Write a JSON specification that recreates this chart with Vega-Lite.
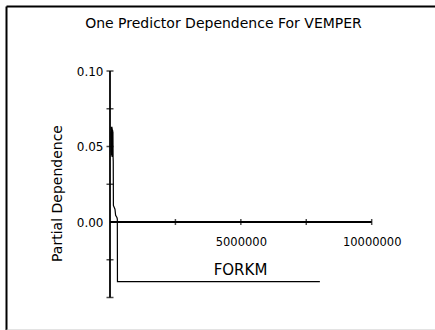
{
  "$schema": "https://vega.github.io/schema/vega-lite/v6.json",
  "width": 429,
  "height": 324,
  "autosize": "none",
  "padding": {"left": 6, "top": 6, "right": 0, "bottom": 0},
  "background": "white",
  "config": {
    "view": {"stroke": null},
    "font": "DejaVu Sans",
    "axis": {"grid": false},
    "axisRight": {"domain": false, "labels": false, "ticks": false, "grid": false, "title": null}
  },
  "title": {
    "text": "One Predictor Dependence For VEMPER",
    "anchor": "middle",
    "frame": "group",
    "orient": "top",
    "offset": -32,
    "baseline": "middle",
    "dx": 3,
    "font": "DejaVu Sans",
    "fontSize": 14,
    "fontWeight": "normal",
    "color": "black"
  },
  "datasets": {
    "curve": [
      {"forkm": 30000, "pd": 0.060},
      {"forkm": 38000, "pd": 0.046},
      {"forkm": 45000, "pd": 0.063},
      {"forkm": 52000, "pd": 0.044},
      {"forkm": 60000, "pd": 0.062},
      {"forkm": 67000, "pd": 0.045},
      {"forkm": 74000, "pd": 0.063},
      {"forkm": 80000, "pd": 0.043},
      {"forkm": 87000, "pd": 0.062},
      {"forkm": 93000, "pd": 0.045},
      {"forkm": 100000, "pd": 0.061},
      {"forkm": 106000, "pd": 0.044},
      {"forkm": 112000, "pd": 0.060},
      {"forkm": 118000, "pd": 0.043},
      {"forkm": 124000, "pd": 0.040},
      {"forkm": 126000, "pd": 0.030},
      {"forkm": 128000, "pd": 0.020},
      {"forkm": 130000, "pd": 0.011},
      {"forkm": 190000, "pd": 0.0085},
      {"forkm": 215000, "pd": 0.0045},
      {"forkm": 265000, "pd": 0.003},
      {"forkm": 280000, "pd": 0.002},
      {"forkm": 285000, "pd": -0.0395},
      {"forkm": 8020000, "pd": -0.0395}
    ],
    "axislines": [
      {"x": 0, "x2": 0, "y": -0.05, "y2": 0.1},
      {"x": 0, "x2": 10000000, "y": 0, "y2": 0}
    ],
    "yticks": [
      {"x": 0, "y": 0.1}, {"x": 0, "y": 0.075}, {"x": 0, "y": 0.05},
      {"x": 0, "y": 0.025}, {"x": 0, "y": -0.025}, {"x": 0, "y": -0.05}
    ],
    "xticks": [
      {"x": 2500000, "y": 0}, {"x": 5000000, "y": 0},
      {"x": 7500000, "y": 0}, {"x": 10000000, "y": 0}
    ]
  },
  "layer": [
    {
      "data": {"name": "curve"},
      "mark": {"type": "line", "color": "black", "strokeWidth": 1.2, "interpolate": "linear"},
      "encoding": {
        "x": {
          "field": "forkm", "type": "quantitative",
          "scale": {"domain": [-3974000, 12419000], "nice": false, "zero": false},
          "axis": {
            "orient": "bottom",
            "title": "FORKM",
            "titleX": 234, "titleY": -61, "titleBaseline": "middle", "titleAlign": "center",
            "titleFont": "DejaVu Sans", "titleFontSize": 15, "titleFontWeight": "normal", "titleColor": "black",
            "values": [5000000, 10000000],
            "format": "d",
            "labelFont": "DejaVu Sans", "labelFontSize": 11.5, "labelColor": "black",
            "labelBaseline": "middle", "labelPadding": -88, "labelFlush": false, "labelOverlap": false,
            "ticks": false, "tickSize": 0,
            "grid": false,
            "domain": true, "domainColor": "#c8c8c8", "domainWidth": 2
          }
        },
        "y": {
          "field": "pd", "type": "quantitative",
          "scale": {"domain": [-0.07152, 0.14305], "nice": false, "zero": false},
          "axis": {
            "orient": "left",
            "title": "Partial Dependence",
            "titleX": 51, "titleY": 187, "titleBaseline": "middle", "titleAlign": "center", "titleAngle": -90,
            "titleFont": "DejaVu Sans", "titleFontSize": 14, "titleFontWeight": "normal", "titleColor": "black",
            "values": [0, 0.05, 0.1],
            "format": ".2f",
            "labelFont": "DejaVu Sans", "labelFontSize": 12, "labelColor": "black",
            "labelAlign": "right", "labelBaseline": "middle", "labelPadding": -97, "labelFlush": false, "labelOverlap": false,
            "ticks": false, "tickSize": 0,
            "grid": false,
            "domain": false
          }
        }
      }
    },
    {
      "data": {"name": "axislines"},
      "mark": {"type": "rule", "color": "black", "strokeWidth": 1.8},
      "encoding": {
        "x": {"field": "x", "type": "quantitative", "axis": {"orient": "top", "title": null, "labels": false, "ticks": false, "values": [-3974000], "grid": true, "gridColor": "black", "gridWidth": 2, "gridOpacity": 1, "domain": true, "domainColor": "black", "domainWidth": 2}},
        "x2": {"field": "x2"},
        "y": {"field": "y", "type": "quantitative", "axis": {"orient": "right", "title": null, "labels": false, "ticks": false, "grid": false, "domain": false}},
        "y2": {"field": "y2"}
      }
    },
    {
      "data": {"name": "yticks"},
      "mark": {"type": "tick", "orient": "horizontal", "color": "black", "size": 7, "thickness": 1.5},
      "encoding": {
        "x": {"field": "x", "type": "quantitative", "axis": null},
        "y": {"field": "y", "type": "quantitative", "axis": {"orient": "right", "title": null, "labels": false, "ticks": false, "grid": false, "domain": false}}
      }
    },
    {
      "data": {"name": "xticks"},
      "mark": {"type": "tick", "orient": "vertical", "color": "black", "size": 6, "thickness": 1.5},
      "encoding": {
        "x": {"field": "x", "type": "quantitative", "axis": null},
        "y": {"field": "y", "type": "quantitative", "axis": {"orient": "right", "title": null, "labels": false, "ticks": false, "grid": false, "domain": false}}
      }
    }
  ]
}
